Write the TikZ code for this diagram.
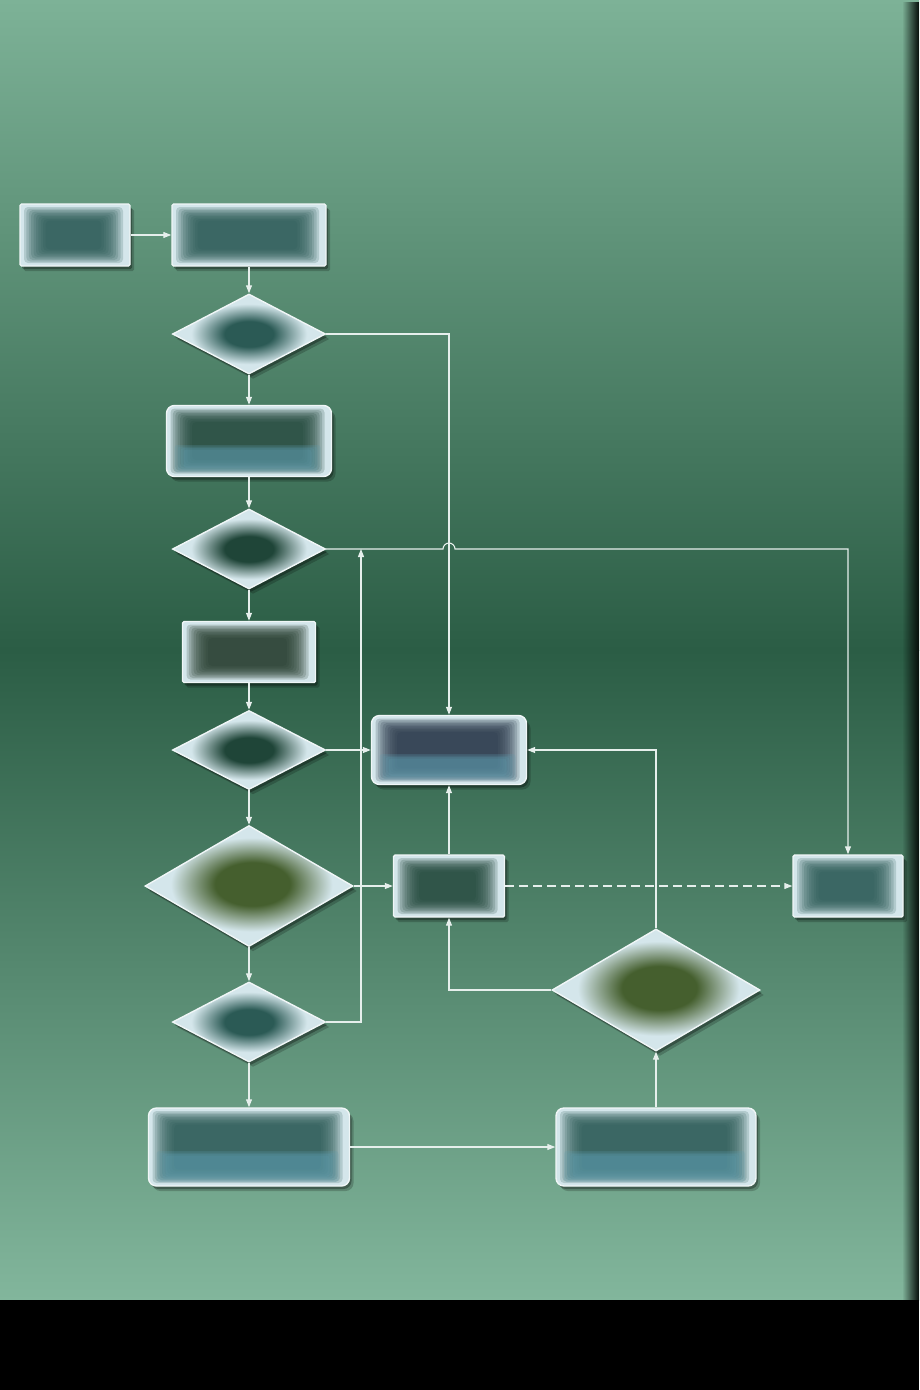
\documentclass[tikz,border=0pt]{standalone}
\usepackage{tikz}
\usetikzlibrary{calc,arrows.meta,shapes.geometric,shadows,fadings}
\definecolor{bgtop}{HTML}{7DB297}
\definecolor{bgmid}{HTML}{2B5D45}
\definecolor{bgbot}{HTML}{82B69C}
\definecolor{rim}{HTML}{F0F6F7}
\definecolor{glass}{HTML}{D4E6EB}
\definecolor{linkc}{HTML}{E6EFEC}
\definecolor{coreteal}{HTML}{2B5A55}
\definecolor{coregreen}{HTML}{1F4538}
\definecolor{coredark}{HTML}{253C2D}
\definecolor{corenavy}{HTML}{283749}
\definecolor{coreolive}{HTML}{455F2E}
\definecolor{bandblue}{HTML}{5E9DB0}
\tikzfading[name=edgefade, left color=transparent!100, right color=transparent!0]
\pgfdeclareradialshading{dteal}{\pgfpoint{0bp}{0bp}}{color(0bp)=(coreteal); color(8bp)=(coreteal); color(19bp)=(glass); color(50bp)=(glass)}
\pgfdeclareradialshading{dgreen}{\pgfpoint{0bp}{0bp}}{color(0bp)=(coregreen); color(8bp)=(coregreen); color(19bp)=(glass); color(50bp)=(glass)}
\pgfdeclareradialshading{dolive}{\pgfpoint{1bp}{1bp}}{color(0bp)=(coreolive); color(9bp)=(coreolive); color(19.5bp)=(glass); color(50bp)=(glass)}
\newcommand\glasscore[1]{%
  \foreach \k in {0,...,9}{
    \fill[#1, opacity=.2, rounded corners=4pt]
      ($(path picture bounding box.south west)+(\k*2.4pt+4pt,\k*1.5pt+3pt)$) rectangle
      ($(path picture bounding box.north east)+(-\k*2.4pt-7pt,-\k*1.5pt-3pt)$);
  }}
\newcommand\glassband{%
  \foreach \k in {0,...,3}{
    \fill[bandblue, opacity=.22, rounded corners=3pt]
      ($(path picture bounding box.south west)+(\k*3pt+8pt,\k*1.5pt+4pt)$) rectangle
      ($(path picture bounding box.east)+(-\k*3pt-11pt,-\k*1.5pt-4pt)$);
  }}
\tikzset{
  glassframe/.style={draw=rim, line width=1.4pt, fill=glass, inner sep=0pt,
    drop shadow={shadow xshift=4pt, shadow yshift=-5pt, opacity=.2, fill=black},
    drop shadow={shadow xshift=2pt, shadow yshift=-3pt, opacity=.3, fill=black}},
  box/.style={glassframe, rounded corners=1.5pt, path picture={\glasscore{#1}}},
  tintbox/.style={glassframe, rounded corners=8pt, path picture={\glasscore{#1}\glassband}},
  dia/.style={glassframe, shape=diamond, shade, shading=#1},
  link/.style={draw=linkc, line width=1.1pt, -{Triangle[length=8pt,width=6pt]}},
  dashlink/.style={link, dash pattern=on 9pt off 5pt},
}
\begin{document}
\begin{tikzpicture}[x=1pt,y=-1pt]
  \useasboundingbox (0,0) rectangle (919,1390);
  \fill[top color=bgtop, bottom color=bgmid] (0,0) rectangle (919,650);
  \fill[top color=bgmid, bottom color=bgbot] (0,650) rectangle (919,1300);
  \fill[black!85!bgmid, path fading=edgefade] (902,0) rectangle (919,1300);
  \fill[black] (0,1300) rectangle (919,1390);

  \node[box=coreteal, minimum width=110pt, minimum height=62pt] (r1) at (75,235) {};
  \node[box=coreteal, minimum width=154pt, minimum height=62pt] (r2) at (249,235) {};
  \node[dia=dteal, minimum width=153pt, minimum height=80pt] (d1) at (249,334) {};
  \node[tintbox=coregreen, minimum width=165pt, minimum height=71pt] (r3) at (249,441) {};
  \node[dia=dgreen, minimum width=153pt, minimum height=80pt] (d2) at (249,549) {};
  \node[box=coredark, minimum width=133pt, minimum height=61pt] (r4) at (249,652) {};
  \node[dia=dgreen, minimum width=153pt, minimum height=79pt] (d3) at (249,750) {};
  \node[dia=dolive, minimum width=208pt, minimum height=121pt] (d4) at (249,886) {};
  \node[dia=dteal, minimum width=153pt, minimum height=80pt] (d5) at (249,1022) {};
  \node[tintbox=coreteal, minimum width=201pt, minimum height=78pt] (r5) at (249,1147) {};
  \node[tintbox=coreteal, minimum width=200pt, minimum height=78pt] (r6) at (656,1147) {};
  \node[dia=dolive, minimum width=208pt, minimum height=122pt] (d6) at (656,990) {};
  \node[tintbox=corenavy, minimum width=155pt, minimum height=69pt] (r7) at (449,750) {};
  \node[box=coregreen, minimum width=111pt, minimum height=62pt] (r8) at (449,886) {};
  \node[box=coreteal, minimum width=110pt, minimum height=62pt] (r9) at (848,886) {};
  \coordinate (merge) at (361,549);
  \coordinate (hop) at (r7.north |- d2.east);

  \draw[link] (r1) -- (r2);
  \foreach \a/\b in {r2/d1,d1/r3,r3/d2,d2/r4,r4/d3,d3/d4,d4/d5,d5/r5}
    \draw[link] (\a.south) -- (\b.north);
  \draw[link] (d1.east) -| (r7.north);
  \draw[link] (d2.east) -- ([xshift=-6pt]hop) arc[start angle=180, end angle=0, radius=6pt] -| (r9.north);
  \draw[link] (d5.east) -| (merge);
  \draw[link] (d3.east) -- (r7.west);
  \draw[link] (d4.east) -- (r8.west);
  \draw[link] (r8.north) -- (r7.south);
  \draw[dashlink] (r8.east) -- (r9.west);
  \draw[link] (d6.west) -| (r8.south);
  \draw[link] (d6.north) |- (r7.east);
  \draw[link] (r5.east) -- (r6.west);
  \draw[link] (r6.north) -- (d6.south);
\end{tikzpicture}
\end{document}
